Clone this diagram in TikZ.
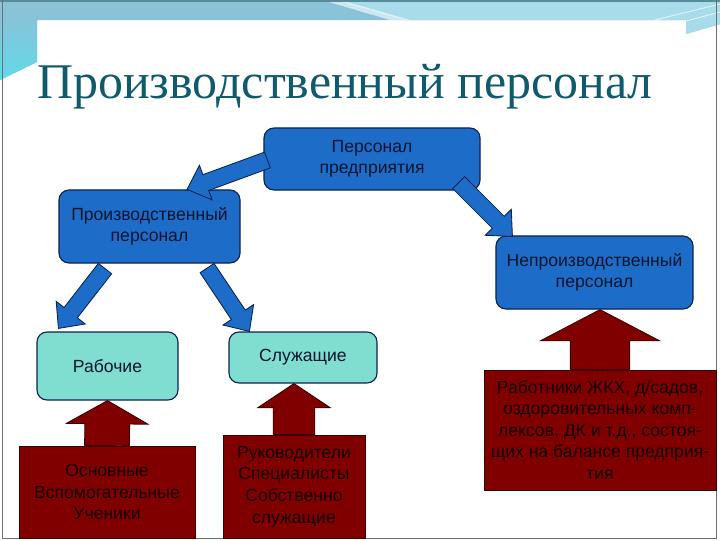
\documentclass[tikz,border=0pt]{standalone}
\usepackage{fontspec}
\setmainfont{Liberation Sans}
\newfontfamily\titlefont{Liberation Serif}
\usepackage{xcolor}
\usepackage{tikz}
\usetikzlibrary{calc,positioning}

\definecolor{boxblue}{RGB}{28,108,200}
\definecolor{boxline}{RGB}{10,35,80}
\definecolor{boxtext}{RGB}{10,20,45}
\definecolor{tealfill}{RGB}{128,222,208}
\definecolor{redfill}{RGB}{128,0,0}
\definecolor{redline}{RGB}{60,0,0}
\definecolor{redtext}{RGB}{20,0,0}
\definecolor{titleteal}{RGB}{16,90,110}
\definecolor{bandblue}{RGB}{138,194,216}
\definecolor{bandlight}{RGB}{168,220,234}
\definecolor{bandcyan}{RGB}{96,218,232}
\definecolor{framegray}{RGB}{110,110,110}

\newcommand{\blockarrow}[6]{%
  \coordinate (ba-base) at ($(#3)!#6!(#2)$);
  \draw[#1] ($(#2)!#4!90:(#3)$) -- ($(ba-base)!#4!-90:(#2)$)
    -- ($(ba-base)!#5!-90:(#2)$) -- (#3)
    -- ($(ba-base)!#5!90:(#2)$) -- ($(ba-base)!#4!90:(#2)$)
    -- ($(#2)!#4!-90:(#3)$) -- cycle;}

\tikzset{
  box/.style={draw=boxline, line width=0.8pt, rounded corners=0.25cm, align=center,
    text=boxtext, inner sep=0pt, font=\fontsize{12.5}{15.3}\selectfont},
  bluebox/.style={box, fill=boxblue},
  tealbox/.style={box, fill=tealfill},
  redbox/.style={draw=redline, line width=0.6pt, fill=redfill, align=center,
    text=redtext, inner sep=0pt, font=\fontsize{12.5}{15.3}\selectfont},
  bluearrow/.style={draw=boxline, fill=boxblue, line width=0.6pt},
  redarrow/.style={draw=redline, fill=redfill, line width=0.6pt}
}

\begin{document}
\begin{tikzpicture}[x=0.025cm, y=-0.025cm]
  \useasboundingbox (0,0) rectangle (720,540);
  \clip (0,0) rectangle (720,540);
  \fill[white] (0,0) rectangle (720,540);
  \fill[bandblue] (0,0) -- (720,0) -- (720,24) -- (686,34) -- (686,20) -- (37,20) -- (37,62) -- (0,80) -- cycle;
  \fill[bandlight] (335,0) -- (720,0) -- (720,24) -- (686,34) -- (686,20) -- (405,20) -- cycle;
  \fill[white, opacity=0.6] (322,0) -- (340,0) -- (410,20) -- (390,20) -- cycle;
  \shade[top color=bandblue, bottom color=bandcyan] (0,12) -- (37,12) -- (37,62) -- (0,80) -- cycle;
  \draw[white, opacity=0.7, line width=0.6pt] (720,4) -- (655,20) (720,12) -- (686,21);
  \draw[titleteal!70, line width=1.5pt] (0,0.5) -- (720,0.5);
  \draw[framegray, line width=1pt] (2.5,0) -- (2.5,538.5) -- (716.5,538.5) -- (716.5,0);

  \node[anchor=base west, inner sep=0pt, text=titleteal, font=\titlefont\fontsize{35.5}{40}\selectfont]
    (title) at (37,98) {Производственный персонал};

  \node[bluebox, minimum width=5.4cm, minimum height=1.55cm] (pp) at (372,159) {Персонал\\предприятия};
  \node[bluebox, minimum width=4.525cm, minimum height=1.825cm] (prod) at (149.5,226.5) {Производственный\\персонал};
  \node[bluebox, minimum width=4.925cm, minimum height=1.825cm] (nonprod) at (594.5,272.5) {Непроизводственный\\персонал};
  \node[tealbox, minimum width=3.525cm, minimum height=1.7cm] (rab) at (107.5,366) {Рабочие};
  \node[tealbox, minimum width=3.7cm, minimum height=1.275cm] (sluzh) at (303,357.5) {Служащие};
  \node[redbox, minimum width=4.4cm, minimum height=2.3cm] (osn) at (107,492) {Основные\\Вспомогательные\\Ученики};
  \node[redbox, minimum width=3.55cm, minimum height=2.575cm] (ruk) at (294,486.5) {Руководители\\Специалисты\\Собственно\\служащие};
  \node[redbox, minimum width=5.8cm, minimum height=3cm] (zhkh) at (600,430)
    {Работники ЖКХ, д/садов,\\оздоровительных комп-\\лексов, ДК и т.д., состоя-\\щих на балансе предприя-\\тия};

  \coordinate (a1s) at ($(pp.west)+(4,1)$);
  \coordinate (a1e) at ($(prod.north)+(37.5,0)$);
  \coordinate (a2s) at ($(pp.south east)+(-22,-8)$);
  \coordinate (a2e) at ($(nonprod.north west)+(17,1)$);
  \coordinate (a3s) at ($(prod.south)+(-44.5,5)$);
  \coordinate (a3e) at ($(rab.north west)+(22,-3)$);
  \coordinate (a4s) at ($(prod.south east)+(-33.5,4.5)$);
  \coordinate (a4e) at ($(sluzh.north west)+(21,0)$);
  \coordinate (u2e) at (ruk.north |- sluzh.south);
  \coordinate (u3e) at (zhkh.north |- nonprod.south);

  \blockarrow{bluearrow}{a1s}{a1e}{0.21cm}{0.46cm}{0.5cm}
  \blockarrow{bluearrow}{a2s}{a2e}{0.21cm}{0.46cm}{0.5cm}
  \blockarrow{bluearrow}{a3s}{a3e}{0.21cm}{0.46cm}{0.5cm}
  \blockarrow{bluearrow}{a4s}{a4e}{0.21cm}{0.46cm}{0.5cm}
  \blockarrow{redarrow}{osn.north}{rab.south}{0.56cm}{1.02cm}{0.58cm}
  \blockarrow{redarrow}{ruk.north}{u2e}{0.52cm}{0.9cm}{0.6cm}
  \blockarrow{redarrow}{zhkh.north}{u3e}{0.74cm}{1.49cm}{0.78cm}
\end{tikzpicture}
\end{document}
